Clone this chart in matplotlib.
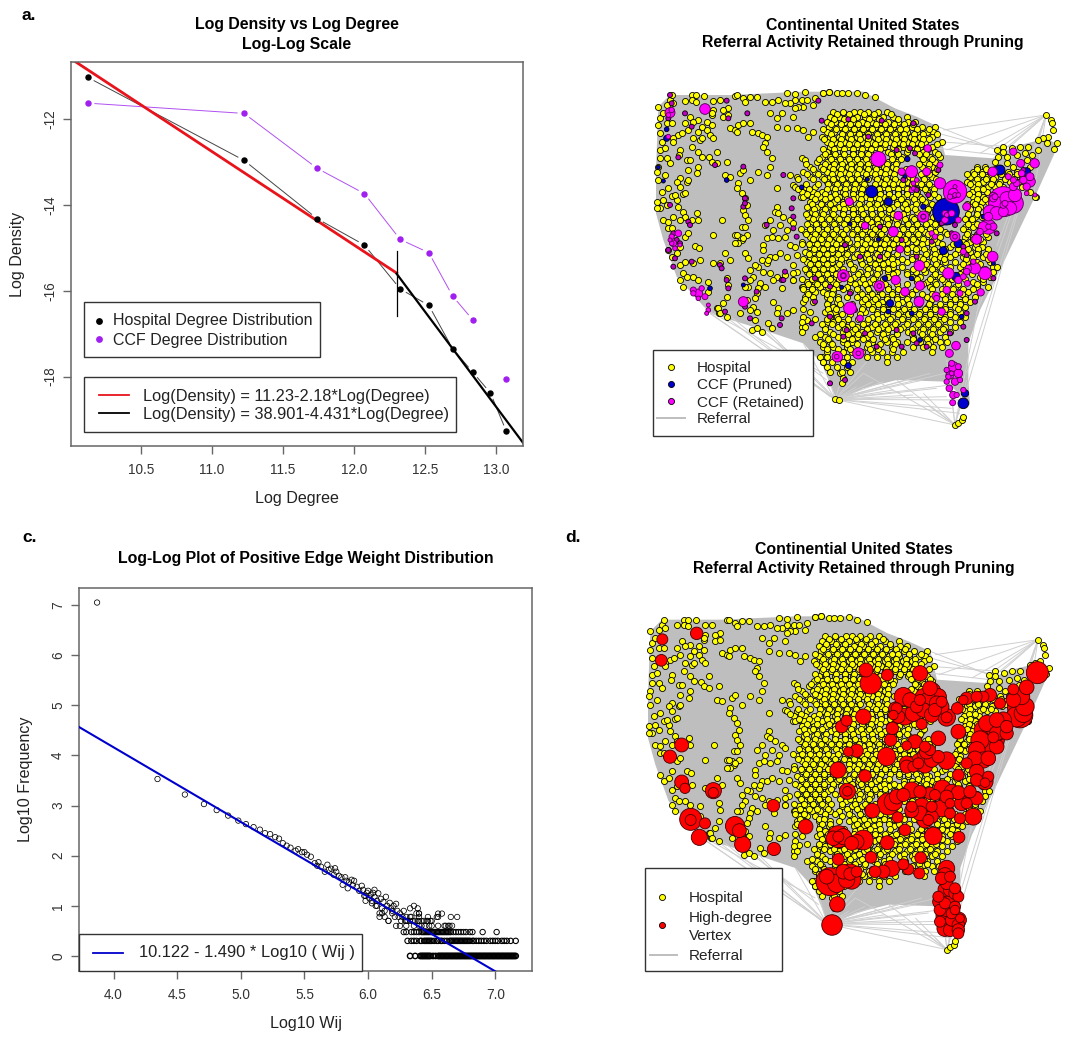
"""
Four panels: degree distribution, edge weight distribution and two referral maps.
Map coordinates are read off the picture (3x crop units, y pointing down).
"""

import matplotlib
matplotlib.use('Agg')
import matplotlib.pyplot as plt
import numpy as np
from matplotlib.collections import LineCollection
from matplotlib.patches import Rectangle

plt.rcParams['font.family'] = ['Liberation Sans', 'DejaVu Sans']
plt.rcParams['axes.unicode_minus'] = False

W, H = 1071, 1039

# panel a
hosp_deg = [10.126, 11.226, 11.74, 12.073, 12.325, 12.527, 12.694, 12.837, 12.96, 13.073]
hosp_den = [-11.02, -12.956, -14.315, -14.93, -15.955, -16.34, -17.35, -17.9, -18.38, -19.28]
ccf_deg = [10.126, 11.226, 11.74, 12.073, 12.325, 12.527, 12.694, 12.837]
ccf_den = [-11.62, -11.86, -13.14, -13.73, -14.8, -15.11, -16.12, -16.68]
ccf_last = (13.073, -18.05)
fit_low = (11.23, -2.18)
fit_high = (38.901, -4.431)
break_deg = 12.3
break_span = (-15.06, -16.58)

# panel c
wij_head = [3.87, 4.345, 4.56, 4.71, 4.81, 4.90, 4.98, 5.04, 5.10, 5.15, 5.19, 5.23, 5.27, 5.30, 5.33,
            5.36, 5.39, 5.43, 5.45, 5.48, 5.50, 5.52, 5.55, 5.58, 5.60, 5.61, 5.63, 5.66, 5.68, 5.69,
            5.71, 5.73, 5.74, 5.75, 5.77, 5.79, 5.80, 5.82, 5.83, 5.84, 5.85, 5.87, 5.88, 5.89, 5.91,
            5.93, 5.95, 5.96, 5.97, 5.98, 5.99, 6.00, 6.01, 6.02, 6.03, 6.04, 6.05, 6.06, 6.07, 6.08,
            6.09, 6.10, 6.11, 6.12, 6.13, 6.14, 6.15, 6.16, 6.17, 6.18, 6.19, 6.20, 6.21, 6.22, 6.23,
            6.24, 6.25, 6.26, 6.27, 6.09, 6.11, 6.07, 6.13, 6.16, 6.19, 6.22, 6.03, 6.05, 5.98, 6.25,
            6.28, 6.30, 6.33, 6.34, 6.36, 6.38, 6.39, 6.40]
frq_head = [7.05, 3.53, 3.22, 3.03, 2.91, 2.80, 2.70, 2.63, 2.57, 2.52, 2.45, 2.43, 2.37, 2.34, 2.25,
            2.20, 2.16, 2.10, 2.13, 2.07, 2.07, 2.02, 1.98, 1.85, 1.80, 1.87, 1.78, 1.68, 1.82, 1.72,
            1.74, 1.62, 1.75, 1.68, 1.60, 1.57, 1.42, 1.57, 1.50, 1.35, 1.47, 1.52, 1.41, 1.50, 1.38,
            1.30, 1.40, 1.32, 1.20, 1.10, 1.26, 1.30, 1.15, 1.22, 1.05, 1.26, 1.18, 1.00, 1.10, 1.25,
            0.85, 1.14, 0.95, 1.08, 0.90, 1.18, 1.00, 0.70, 1.06, 0.95, 0.85, 1.00, 0.78, 1.04, 0.90,
            0.78, 0.85, 0.70, 0.78, 0.78, 0.85, 1.00, 0.78, 0.70, 0.90, 0.60, 1.10, 1.32, 1.20, 0.60,
            0.90, 0.70, 0.95, 0.78, 1.00, 0.85, 0.95, 0.85]
wij_l0 = [6.33, 6.37, 6.41, 6.42, 6.43, 6.44, 6.45, 6.46, 6.47, 6.48, 6.49, 6.51, 6.53, 6.55, 6.56, 6.57,
          6.58, 6.59, 6.60, 6.61, 6.62, 6.63, 6.64, 6.65, 6.66, 6.67, 6.68, 6.69, 6.70, 6.71, 6.72, 6.73,
          6.74, 6.75, 6.76, 6.77, 6.78, 6.79, 6.80, 6.81, 6.82, 6.83, 6.84, 6.85, 6.86, 6.87, 6.88, 6.89,
          6.90, 6.91, 6.92, 6.93, 6.94, 6.95, 6.96, 6.97, 6.98, 6.99, 7.00, 7.01, 7.02, 7.03, 7.04, 7.05,
          7.06, 7.07, 7.08, 7.09, 7.10, 7.11, 7.12, 7.13, 7.14, 7.15, 7.16]
wij_l1 = [6.31, 6.34, 6.36, 6.38, 6.41, 6.42, 6.44, 6.45, 6.46, 6.47, 6.48, 6.49, 6.50, 6.52, 6.54, 6.55,
          6.57, 6.58, 6.60, 6.62, 6.64, 6.65, 6.66, 6.67, 6.68, 6.69, 6.70, 6.71, 6.72, 6.73, 6.74, 6.75,
          6.76, 6.77, 6.78, 6.79, 6.80, 6.82, 6.83, 6.85, 6.87, 6.89, 6.91, 6.93, 6.96, 6.98, 7.00, 7.02,
          7.05, 7.07, 7.09, 7.12, 7.16]
wij_l2 = [6.28, 6.30, 6.34, 6.36, 6.38, 6.40, 6.42, 6.43, 6.44, 6.45, 6.46, 6.47, 6.48, 6.49, 6.50, 6.51,
          6.52, 6.53, 6.54, 6.55, 6.56, 6.57, 6.58, 6.59, 6.60, 6.61, 6.62, 6.63, 6.64, 6.65, 6.67, 6.69,
          6.71, 6.73, 6.75, 6.77, 6.80, 6.82, 6.90, 7.01]
wij_l3 = [6.30, 6.36, 6.40, 6.42, 6.45, 6.48, 6.50, 6.55, 6.60, 6.61, 6.63, 6.64, 6.66]
wij_l4 = [6.29, 6.31, 6.33, 6.35, 6.37, 6.39, 6.40, 6.42, 6.44, 6.46, 6.47, 6.49, 6.50]
wij_l5 = [6.30, 6.33, 6.40, 6.47, 6.54, 6.55, 6.65, 6.70]
wij_l6 = [6.40, 6.55, 6.58]
level_x = [wij_l0, wij_l1, wij_l2, wij_l3, wij_l4, wij_l5, wij_l6]
level_y = [0.0, 0.301, 0.477, 0.602, 0.699, 0.778, 0.845]
level_lw = [1.0, 0.8, 0.7, 0.55, 0.55, 0.55, 0.55]
wij_fit = (10.122, -1.490)

# maps: hospitals in the sparse west and north-east, as x,y pairs
west_x = [85, 120, 125, 130, 112, 187, 197, 222, 185, 165, 197, 250, 270, 315, 322, 295, 280, 250, 278, 295,
          245, 230, 205, 180, 165, 188, 215, 245, 230, 205, 175, 190, 210, 240, 248, 145, 130, 155, 90, 85,
          110, 125, 100, 90, 95, 90, 105, 130, 112, 150, 148, 90, 85, 80, 85, 105, 115, 125, 160, 170,
          165, 140, 80, 90, 100, 115, 130, 145, 160, 165, 150, 185, 200, 205, 80, 115, 125, 165, 175, 195,
          208, 150, 115, 125, 140, 150, 165, 190, 210, 160, 170, 190, 205, 235, 160, 150, 290, 280, 262, 268,
          235, 250, 270, 285, 300, 315, 325, 340, 360, 320, 365, 385, 395, 410, 340, 360, 345, 380, 405, 425,
          445, 470, 495, 525, 495, 480, 465, 515, 530, 520, 505, 495, 555, 550, 580, 597, 420, 440, 455, 490,
          470, 500, 520, 440, 535, 550, 238, 245, 262, 290, 285, 300, 330, 340, 325, 320, 360, 335, 345, 350,
          340, 345, 355, 335, 350, 335, 345, 330, 315, 325, 345, 405, 410, 400, 425, 420, 410, 385, 440, 480,
          500, 490, 512, 530, 545, 555, 515, 525, 440, 435, 445, 460, 480, 405, 420, 430, 450, 470, 490, 410,
          400, 425, 445, 465, 480, 495, 400, 420, 395, 410, 435, 450, 470, 500, 490, 415, 385, 375, 360, 400,
          420, 440, 465, 500, 490, 370, 390, 405, 430, 455, 490, 275, 250, 320, 315, 340, 355, 300, 290, 295,
          355, 385, 380, 375, 350, 370, 380, 265, 270, 290, 330, 360, 375, 430, 445, 470, 490, 520, 515, 440,
          415, 425, 365, 380, 395, 490, 515, 530, 360, 345, 575, 580, 260, 245, 205, 215, 185, 170, 150, 140,
          120, 95, 100, 110, 135, 150, 175, 200, 180, 215, 205, 175]
west_y = [80, 60, 45, 70, 75, 45, 45, 47, 60, 62, 65, 62, 60, 47, 45, 85, 90, 90, 110, 105,
          105, 125, 120, 110, 130, 125, 140, 135, 150, 155, 150, 175, 180, 165, 175, 165, 175, 160, 115, 135,
          130, 130, 100, 160, 185, 210, 205, 185, 235, 210, 225, 235, 260, 275, 300, 285, 325, 348, 342, 305,
          340, 360, 365, 385, 420, 425, 410, 380, 395, 410, 420, 420, 400, 420, 385, 445, 445, 470, 460, 498,
          505, 500, 510, 530, 520, 555, 545, 550, 540, 580, 590, 590, 600, 605, 620, 600, 650, 670, 685, 700,
          635, 550, 550, 520, 145, 150, 135, 130, 130, 155, 155, 160, 165, 170, 55, 50, 65, 50, 65, 65,
          60, 40, 42, 37, 60, 70, 70, 60, 60, 80, 80, 85, 55, 75, 38, 35, 100, 115, 100, 110,
          145, 145, 150, 140, 170, 155, 232, 245, 250, 245, 285, 290, 280, 270, 310, 325, 300, 340, 355, 375,
          390, 405, 420, 440, 465, 480, 440, 470, 465, 490, 520, 190, 215, 200, 235, 260, 285, 275, 325, 285,
          290, 315, 350, 345, 360, 320, 235, 240, 380, 395, 400, 410, 420, 435, 420, 450, 435, 450, 430, 475,
          495, 470, 475, 470, 495, 500, 510, 530, 540, 550, 530, 520, 530, 525, 555, 540, 560, 555, 570, 575,
          580, 590, 585, 575, 600, 590, 610, 620, 600, 625, 580, 420, 465, 465, 490, 475, 535, 540, 595, 615,
          620, 625, 640, 655, 660, 680, 695, 685, 700, 710, 700, 690, 720, 665, 685, 700, 690, 665, 620, 700,
          730, 745, 750, 745, 755, 600, 740, 720, 600, 620, 830, 845, 215, 100, 215, 175, 200, 240, 295, 305,
          250, 335, 360, 375, 345, 320, 300, 280, 240, 230, 260, 270]
ne_x = [1248, 1262, 1265, 1268, 1255, 1240, 1280, 1272, 1250, 1225, 1225, 1195, 1170, 1145, 1120, 1100, 1120, 1105, 1095, 1130,
        1160, 1185, 1205, 1190, 1130, 1200, 1150, 1110, 975, 985, 995, 1000, 615, 628, 638, 635, 630, 1218,
        620, 635, 655, 680, 705, 735, 598, 580]
ne_y = [105, 120, 130, 150, 170, 175, 190, 208, 190, 180, 210, 200, 200, 205, 200, 210, 215, 230, 245, 230,
        225, 220, 225, 240, 250, 260, 260, 265, 1035, 1028, 1020, 1010, 958, 960, 895, 910, 880, 350,
        40, 40, 40, 38, 45, 52, 35, 38]

# maps: hospitals in the dense east, one list of x per row
east_y = [95, 110, 125, 140, 155, 170, 185, 200, 215, 230, 245, 260, 275, 290, 305, 320, 335, 350, 365,
          380, 395, 410, 425, 440, 455, 470, 485, 500, 515, 530, 545, 560, 575, 590, 605, 620, 635, 650, 665,
          680, 695, 710, 725, 740, 755, 770, 785, 800, 815, 830, 845, 860, 875]
east_x = [
    [610, 640, 672, 690, 715, 745, 770],
    [600, 628, 650, 682, 705, 730, 760, 790, 830],
    [590, 615, 645, 668, 695, 722, 750, 775, 805, 835, 855],
    [598, 630, 655, 680, 708, 735, 762, 790, 818, 845, 875, 915],
    [590, 612, 640, 668, 692, 720, 748, 775, 800, 830, 860, 890, 910],
    [575, 600, 628, 655, 680, 705, 735, 760, 788, 815, 842, 870, 905],
    [590, 615, 642, 668, 695, 722, 750, 778, 805, 832, 858, 885, 935],
    [600, 628, 655, 680, 708, 735, 762, 790, 818, 845, 870, 905],
    [590, 612, 640, 668, 692, 720, 775, 802, 830, 858, 880, 915],
    [575, 600, 628, 655, 680, 705, 790, 815, 875, 900, 930],
    [560, 590, 615, 642, 668, 695, 722, 775, 802, 885, 915],
    [540, 572, 600, 628, 655, 680, 708, 735, 762, 790, 875, 905, 1040, 1065],
    [520, 555, 590, 615, 642, 668, 695, 722, 750, 778, 815, 885, 915, 1030, 1055, 1080, 1135, 1160],
    [540, 575, 600, 628, 655, 680, 708, 735, 762, 790, 835, 878, 905, 1020, 1045, 1070, 1095, 1125, 1150, 1175],
    [590, 615, 642, 668, 695, 750, 778, 805, 830, 860, 890, 1010, 1035, 1060, 1085, 1110, 1140, 1165],
    [495, 525, 600, 628, 655, 680, 708, 762, 790, 818, 845, 875, 905, 1030, 1050, 1075, 1095, 1120, 1175],
    [515, 550, 575, 612, 640, 668, 692, 722, 750, 778, 805, 832, 860, 890, 1025, 1045, 1070, 1200],
    [520, 545, 570, 600, 628, 680, 708, 735, 762, 790, 818, 845, 870, 900, 925, 1030, 1060, 1215],
    [540, 575, 612, 640, 692, 722, 750, 800, 832, 860, 885, 1030, 1055, 1075],
    [530, 560, 590, 628, 655, 680, 708, 735, 762, 790, 818, 845, 900, 1020, 1050],
    [545, 575, 605, 640, 668, 692, 722, 750, 778, 832, 860, 890, 1040],
    [535, 560, 590, 618, 655, 680, 708, 735, 762, 790, 845, 910, 1010, 1035, 1055],
    [545, 575, 605, 632, 668, 692, 722, 750, 778, 805, 832, 858, 900, 930, 1025],
    [540, 565, 590, 618, 655, 680, 730, 762, 815, 845, 870, 905, 1005, 1030],
    [525, 550, 575, 605, 632, 668, 692, 720, 748, 830, 858, 885, 915, 945, 1015],
    [540, 565, 590, 618, 645, 680, 708, 735, 762, 790, 815, 845, 870, 905, 930, 1005, 1030, 1075],
    [515, 550, 575, 605, 632, 658, 692, 720, 748, 775, 802, 830, 858, 890, 920, 1000, 1020, 1060],
    [540, 565, 590, 618, 645, 672, 708, 735, 762, 790, 815, 845, 870, 905, 960, 1035, 1055],
    [525, 550, 575, 605, 632, 658, 692, 720, 748, 775, 830, 858, 890, 920, 985, 1020, 1045],
    [540, 565, 590, 618, 645, 672, 708, 735, 762, 790, 845, 870, 905, 930, 960, 1000, 1030, 1060],
    [530, 555, 580, 605, 632, 658, 692, 720, 748, 775, 802, 830, 890, 920, 945, 975, 1010, 1040, 1080],
    [545, 570, 595, 618, 672, 708, 735, 762, 790, 815, 900, 930, 960, 990, 1020, 1090, 1100],
    [530, 555, 580, 605, 690, 720, 748, 775, 802, 830, 858, 885, 915, 1000, 1090],
    [545, 570, 595, 618, 672, 700, 735, 775, 845, 870, 905, 930, 1050, 1080],
    [530, 555, 580, 610, 660, 690, 720, 860, 890, 915, 945, 1030, 1060],
    [520, 545, 570, 595, 625, 650, 680, 710, 775, 900, 945, 975, 1040, 1075],
    [530, 555, 580, 610, 660, 690, 720, 750, 785, 845, 960, 990, 1015],
    [525, 550, 590, 625, 650, 680, 710, 740, 770, 800, 835, 890, 945, 975, 1005, 1035],
    [550, 595, 620, 695, 725, 755, 815, 900, 960, 990, 1020],
    [595, 610, 700, 730, 760, 800, 835, 890, 915, 945, 975, 1005],
    [540, 585, 615, 705, 740, 770, 810, 840, 870, 900, 960, 990],
    [520, 600, 620, 725, 755, 785, 820, 855, 885, 915, 945, 975, 1005],
    [515, 590, 610, 640, 710, 740, 770, 800, 835, 870, 900, 930, 960, 990],
    [525, 585, 625, 650, 680, 725, 755, 785, 820, 855, 885, 915, 945, 975],
    [515, 600, 640, 665, 695, 740, 770, 800, 835, 870, 900, 930, 960],
    [555, 585, 625, 650, 680, 710, 755, 785, 850, 885, 915, 945],
    [570, 600, 640, 665, 725, 770, 800, 830, 870, 900, 930, 950],
    [580, 610, 650, 710, 740, 785, 850, 880, 910, 935],
    [590, 640, 665, 695, 725, 755, 785, 820, 905],
    [570, 590, 650, 710, 740, 770, 800],
    [580, 605, 640, 665, 770],
    [590, 620, 650],
    [600, 635, 660],
]
# second pass over the same area, between the rows above
east2_y = [103, 117, 133, 147, 163, 178, 193, 207, 222, 238, 253, 268, 283, 297, 313, 328, 343, 357, 373, 388,
           402, 418, 433, 447, 463, 478, 493, 507, 523, 538, 552, 568, 583, 597, 613, 628, 643, 657, 673, 688,
           703, 718, 733, 747, 763, 778, 793, 808]
east2_x = [
    [622, 657, 703, 733, 782],
    [613, 641, 669, 718, 747, 803],
    [603, 634, 659, 684, 711, 738, 765, 793, 822, 848],
    [578, 618, 644, 673, 699, 727, 753, 781, 809, 829, 862, 898],
    [603, 636, 661, 687, 714, 742, 769, 794, 823, 851, 878, 922],
    [583, 609, 634, 663, 689, 714, 743, 769, 797, 823, 851, 879, 898],
    [602, 630, 657, 681, 711, 736, 766, 793, 819, 846, 872, 921],
    [579, 613, 641, 669, 695, 722, 751, 804, 833, 862, 893],
    [584, 616, 643, 669, 694, 713, 782, 805, 867, 888, 925],
    [567, 603, 630, 656, 682, 709, 738, 785, 812, 878, 905],
    [528, 586, 611, 636, 662, 689, 715, 748, 770, 798, 868, 896],
    [549, 580, 610, 634, 662, 688, 714, 738, 769, 798, 829, 893, 922, 1042, 1067, 1094],
    [530, 563, 606, 630, 657, 682, 709, 735, 765, 793, 850, 872, 897, 1010, 1031, 1056, 1082, 1112, 1138, 1162],
    [505, 548, 583, 610, 636, 662, 688, 714, 741, 767, 795, 822, 849, 882, 918, 1040, 1067, 1090, 1126, 1152, 1185],
    [528, 563, 593, 620, 648, 674, 701, 735, 763, 790, 815, 846, 872, 898, 1020, 1045, 1082, 1108, 1190],
    [505, 538, 590, 615, 645, 672, 696, 722, 748, 775, 803, 830, 858, 885, 912, 1040, 1060],
    [530, 562, 586, 614, 644, 668, 694, 722, 750, 778, 805, 832, 858, 912, 1016, 1045],
    [555, 584, 620, 650, 668, 694, 719, 748, 775, 813, 852, 875, 1040, 1065],
    [545, 572, 600, 638, 660, 688, 716, 742, 770, 800, 825, 858, 905, 1010, 1035],
    [552, 584, 612, 642, 668, 692, 722, 750, 776, 832, 856, 895, 1020, 1045],
    [528, 556, 580, 610, 640, 670, 700, 725, 752, 788, 820, 888, 918, 1014, 1040],
    [548, 572, 598, 626, 652, 682, 712, 742, 770, 798, 826, 852, 922, 1005, 1025],
    [532, 558, 582, 612, 642, 668, 694, 745, 775, 802, 835, 860, 888, 915, 1015, 1040],
    [512, 540, 564, 590, 618, 648, 680, 705, 735, 762, 790, 818, 845, 872, 900, 930, 1000, 1050],
    [528, 556, 582, 608, 640, 666, 696, 725, 752, 780, 808, 835, 865, 895, 950, 1010, 1040, 1068],
    [548, 572, 598, 626, 652, 682, 712, 740, 768, 798, 825, 850, 878, 912, 975, 1028, 1050],
    [515, 538, 560, 590, 618, 645, 680, 705, 734, 762, 790, 815, 875, 905, 935, 970, 1008, 1038],
    [552, 580, 605, 632, 665, 695, 722, 750, 778, 805, 832, 858, 882, 912, 945, 985, 1015, 1045, 1075],
    [538, 566, 592, 624, 650, 680, 710, 740, 770, 800, 888, 915, 945, 975, 1005, 1040, 1068],
    [520, 552, 578, 605, 634, 690, 718, 748, 785, 815, 845, 880, 912, 942, 1008, 1075],
    [540, 565, 592, 628, 660, 695, 735, 760, 790, 860, 888, 918, 1000, 1050],
    [525, 552, 580, 605, 640, 670, 715, 745, 775, 848, 878, 905, 935, 1035, 1064],
    [538, 565, 592, 618, 655, 685, 712, 740, 790, 830, 915, 960, 990, 1025],
    [515, 545, 572, 600, 628, 660, 698, 728, 760, 795, 862, 900, 935, 965, 1005, 1060],
    [535, 560, 585, 618, 675, 705, 735, 765, 800, 830, 880, 918, 955, 985, 1040],
    [520, 545, 610, 640, 680, 715, 745, 775, 805, 858, 905, 935, 970, 1000, 1030],
    [535, 590, 605, 695, 725, 755, 785, 815, 845, 875, 905, 935, 965, 995],
    [525, 600, 625, 705, 735, 770, 800, 830, 860, 905, 945, 975, 1005],
    [590, 630, 665, 715, 745, 775, 805, 838, 868, 898, 930, 960, 990],
    [520, 595, 618, 650, 695, 725, 760, 790, 822, 852, 885, 915, 945, 985],
    [600, 635, 660, 690, 740, 770, 805, 835, 868, 900, 930, 960],
    [555, 590, 625, 655, 685, 715, 745, 780, 815, 850, 882, 912, 942],
    [575, 605, 635, 665, 700, 735, 765, 795, 830, 865, 895, 925],
    [585, 645, 675, 710, 745, 775, 810, 845, 880, 910, 940],
    [570, 610, 655, 685, 720, 760, 800, 845, 875, 905],
    [595, 640, 665, 700, 730, 765, 790, 850, 890, 915],
    [580, 605, 650, 680, 715, 750, 795, 895],
    [590, 625, 660, 720, 745, 790],
]

# referral fans towards the far-out vertices
fan_from_x = [1248, 1248, 1248, 1248, 1248, 1248, 1248, 1248, 1248, 1248, 1248,
              615, 615, 615, 615, 615, 615, 615, 615, 615, 615, 615, 615, 615, 615,
              615, 615, 615, 615, 615, 615, 615, 615, 615, 615,
              975, 975, 975, 975, 975, 975, 975, 975, 975, 975,
              240, 290, 400, 350, 230, 925, 925, 925, 925]
fan_from_y = [105, 105, 105, 105, 105, 105, 105, 105, 105, 105, 105,
              958, 958, 958, 958, 958, 958, 958, 958, 958, 958, 958, 958, 958, 958,
              958, 958, 958, 958, 958, 958, 958, 958, 958, 958,
              1035, 1035, 1035, 1035, 1035, 1035, 1035, 1035, 1035, 1035,
              700, 700, 740, 720, 690, 140, 160, 185, 205]
fan_to_x = [1100, 1050, 940, 950, 1140, 1210, 1100, 1040, 1010, 1090, 1000,
            520, 400, 300, 700, 760, 830, 900, 945, 1000, 975, 710, 650, 240, 590,
            680, 730, 790, 850, 880, 920, 950, 960, 965, 990,
            700, 800, 1010, 950, 1060, 880, 900, 940, 1000, 960,
            615, 600, 610, 590, 580, 1100, 1130, 1200, 1150]
fan_to_y = [210, 220, 150, 210, 200, 350, 500, 700, 880, 235, 960,
            790, 750, 720, 880, 905, 900, 880, 880, 960, 1035, 845, 850, 700, 870,
            920, 905, 930, 945, 900, 925, 950, 915, 985, 1000,
            880, 900, 900, 840, 600, 940, 980, 1000, 950, 905,
            958, 950, 950, 900, 880, 210, 215, 205, 230]
hull_x = [85, 120, 300, 520, 700, 795, 860, 925, 945, 1090, 1150, 1250, 1285, 1215, 1110, 1050, 1015, 1015, 1020,
          950, 800, 700, 640, 620, 575, 520, 400, 240, 140, 100, 78, 78]
hull_y = [80, 45, 45, 35, 35, 85, 110, 140, 225, 235, 200, 175, 195, 350, 570, 690, 790, 900, 975,
          905, 900, 925, 955, 960, 850, 790, 750, 700, 590, 480, 400, 270]

# panel b vertices: x, y, diameter
ccf_big_x = [225, 120, 745, 845, 815, 890, 893, 930, 975, 970, 1088, 1150, 1172, 1214, 1200, 1155, 1120, 1100, 1080, 1075,
             1040, 1088, 1065, 1035, 955, 868, 640, 640, 660, 685, 622, 690, 658, 705, 790, 880, 880, 805, 975, 810,
             748, 797, 825, 870, 867, 918, 935, 1052, 978, 958, 990, 1012, 970, 960, 985, 975, 958, 970, 968, 205,
             190, 225, 235, 130, 125, 145, 340, 1120, 1140, 1095, 975, 945,
             1150, 1130, 1100, 1120, 1090, 1160, 1200, 1190, 1075, 1060, 1090, 1050, 1135, 1150, 1215, 1190, 960, 985, 975, 950,
             965, 945, 190, 215, 205, 235, 230, 125, 135, 150, 120, 125, 115, 115, 950, 965, 985, 990, 1000, 950, 965, 980, 955,
             850, 845, 860, 850, 620, 685, 640, 748, 880, 975, 1075, 1125,
             1010, 985, 905, 930, 1000, 1010, 950, 920, 915, 985, 1000, 1015, 1030, 1090, 1150, 1175, 1180]
ccf_big_y = [87, 98, 237, 275, 275, 275, 205, 310, 335, 340, 275, 215, 250, 250, 305, 345, 365, 375, 395, 440,
             478, 530, 580, 565, 580, 557, 587, 587, 685, 820, 830, 715, 365, 437, 455, 410, 410, 407, 470, 508,
             618, 600, 635, 617, 665, 648, 695, 637, 797, 820, 640, 610, 860, 885, 880, 905, 925, 945, 968, 640,
             630, 650, 690, 490, 470, 460, 665, 375, 385, 350, 345, 400,
             370, 355, 400, 395, 350, 310, 290, 320, 410, 440, 440, 455, 290, 300, 345, 340, 350, 345, 320, 405,
             400, 420, 640, 625, 655, 675, 700, 490, 505, 495, 480, 90, 105, 170, 870, 850, 860, 900, 930, 905, 880, 945, 890,
             310, 330, 300, 325, 830, 820, 587, 618, 410, 470, 440, 370,
             380, 420, 460, 255, 515, 575, 630, 655, 470, 600, 590, 565, 545, 355, 320, 280, 300]
ccf_big_d = [32, 30, 45, 36, 22, 24, 22, 34, 70, 30, 28, 22, 24, 28, 32, 40, 90, 50, 40, 45,
             30, 32, 38, 34, 34, 32, 36, 18, 38, 34, 32, 20, 24, 22, 30, 34, 16, 26, 30, 22,
             32, 28, 26, 28, 30, 24, 22, 22, 26, 24, 18, 18, 30, 24, 26, 22, 20, 22, 18, 26,
             18, 18, 14, 20, 16, 20, 30, 20, 40, 18, 14, 18,
             60, 40, 40, 30, 26, 20, 24, 22, 26, 30, 22, 20, 18, 18, 12, 14, 16, 14, 12, 14,
             20, 20, 16, 16, 14, 12, 12, 14, 14, 12, 12, 16, 14, 14, 16, 18, 18, 16, 16, 16, 14, 16, 16,
             14, 16, 14, 12, 14, 14, 14, 14, 14, 14, 16, 18,
             24, 18, 16, 18, 18, 20, 22, 18, 16, 22, 18, 20, 16, 22, 24, 20, 22]
ccf_blue_x = [725, 948, 775, 985, 940, 780, 832, 880, 1110, 1190, 655, 1000, 1005, 110, 978, 765, 845, 110, 85, 1060,
              660, 712, 825, 745, 635, 845, 870, 775, 1090, 995, 240, 340, 100, 515, 290]
ccf_blue_y = [335, 395, 365, 490, 512, 670, 237, 380, 270, 275, 857, 970, 940, 175, 590, 595, 595, 148, 262, 410,
              432, 298, 290, 478, 622, 700, 780, 695, 550, 710, 625, 615, 303, 322, 300]
ccf_blue_d = [36, 80, 24, 26, 24, 22, 16, 16, 30, 24, 18, 32, 22, 18, 26, 16, 14, 14, 12, 14,
              12, 12, 12, 12, 12, 14, 14, 14, 12, 14, 14, 12, 12, 14, 14]
ccf_small_x = [120, 125, 165, 185, 295, 352, 290, 115, 145, 255, 340, 565, 575, 655, 755, 850, 800, 715, 840, 855,
               860, 930, 820, 895, 925, 345, 340, 345, 490, 485, 490, 460, 410, 490, 120, 175, 180, 130, 140, 115,
               150, 185, 135, 130, 270, 275, 290, 295, 345, 335, 345, 380, 455, 465, 555, 460, 500, 285, 360, 455,
               450, 545, 555, 600, 640, 650, 675, 705, 740, 815, 860, 890, 960, 1010, 1035, 1090, 1130, 1180, 600, 645,
               815, 905, 860, 690, 750, 750, 645, 600, 800, 660, 850, 1000, 1010, 1045, 1100, 935, 965, 975, 1000, 1010]
ccf_small_y = [45, 70, 100, 140, 115, 100, 62, 115, 232, 255, 260, 62, 122, 118, 122, 130, 210, 170, 205, 220,
               330, 255, 300, 345, 270, 355, 380, 370, 355, 385, 410, 285, 435, 445, 375, 425, 435, 460, 480, 510,
               490, 545, 535, 560, 555, 565, 600, 625, 595, 665, 680, 635, 600, 575, 595, 600, 470, 695, 715, 715,
               735, 730, 665, 710, 770, 750, 690, 760, 800, 800, 790, 800, 760, 700, 665, 595, 350, 270, 910, 900,
               480, 485, 530, 530, 440, 530, 495, 620, 750, 640, 760, 740, 780, 460, 460, 430, 460, 435, 500, 525]

# panel d vertices: x, y, diameter
red_x = [97, 200, 94, 155, 120, 155, 165, 250, 250, 182, 182, 225, 208, 315, 328, 338, 430, 432, 527, 624,
         652, 652, 705, 635, 650, 700, 708, 722, 772, 870, 655, 680, 770, 782, 787, 820, 800, 825, 860, 880,
         905, 920, 905, 950, 950, 875, 985, 982, 1010, 1040, 1080, 1110, 1150, 1190, 1222, 1165, 1170, 1130, 1100, 1070,
         1075, 1090, 1100, 1090, 1040, 1060, 1040, 985, 1065, 1065, 950, 870, 865, 830, 890, 885, 855, 830, 925, 845,
         775, 800, 727, 803, 845, 875, 900, 937, 935, 885, 895, 990, 1030, 985, 995, 1040, 960, 825, 910, 987,
         772, 700, 665, 625, 625, 625, 723, 872, 600, 660, 660, 665, 622, 606, 735, 785, 760, 820, 835, 868,
         950, 935, 945, 975, 930, 955, 975, 940, 985, 945, 985, 985, 965,
         795, 840, 850, 880, 895, 925, 935, 915, 900, 935, 790, 805, 870, 1000, 1060, 1150, 1185, 1175, 1160, 1180,
         1120, 1095, 1060, 1050, 1110, 1070, 1100, 1130, 1035, 1075, 1010, 1040, 1075, 830, 850, 885, 905, 925, 900, 885,
         790, 820, 870, 915, 950, 965, 1000, 1020, 1010, 960, 870, 905, 845, 905, 640, 610, 680, 650, 680, 640,
         620, 590, 950, 960, 975, 985, 925, 945, 930, 950, 965, 985, 930, 960, 990, 975, 945, 960]
red_y = [118, 100, 181, 435, 470, 546, 565, 572, 578, 658, 660, 670, 712, 678, 692, 733, 617, 747, 680, 510,
         574, 574, 528, 380, 362, 350, 210, 250, 225, 220, 455, 452, 470, 420, 385, 290, 325, 350, 320, 290,
         275, 310, 345, 352, 352, 372, 395, 325, 295, 290, 285, 310, 268, 262, 218, 320, 345, 380, 360, 370,
         400, 420, 400, 412, 450, 480, 515, 525, 545, 548, 482, 487, 490, 500, 455, 440, 425, 437, 415, 570,
         612, 590, 632, 652, 632, 617, 580, 565, 625, 660, 660, 655, 650, 578, 610, 595, 610, 690, 708, 712,
         728, 720, 730, 710, 710, 778, 772, 773, 845, 825, 822, 840, 913, 975, 815, 805, 815, 793, 808, 820,
         805, 835, 868, 880, 905, 890, 920, 948, 960, 985, 990, 1000, 940,
         325, 300, 340, 330, 300, 290, 320, 330, 265, 305, 345, 350, 300, 300, 290, 300, 320, 290, 350, 340,
         360, 385, 390, 420, 395, 440, 440, 400, 475, 475, 490, 540, 530, 490, 500, 495, 480, 470, 450, 465,
         605, 585, 575, 585, 590, 575, 590, 575, 610, 640, 640, 620, 620, 650, 710, 715, 725, 840, 815, 815,
         850, 830, 850, 870, 865, 890, 890, 910, 930, 930, 960, 975, 965, 990, 955, 930, 825, 830]
red_d = [30, 34, 32, 38, 36, 38, 28, 44, 28, 60, 30, 30, 44, 52, 38, 44, 34, 36, 40, 44,
         44, 26, 34, 34, 30, 42, 38, 58, 32, 42, 26, 36, 50, 34, 34, 50, 30, 46, 34, 44,
         50, 40, 40, 48, 30, 30, 40, 32, 34, 30, 36, 30, 30, 40, 60, 60, 70, 34, 40, 44,
         70, 60, 40, 30, 46, 44, 40, 32, 44, 26, 48, 50, 30, 36, 40, 30, 38, 26, 40, 44,
         60, 40, 40, 30, 38, 42, 34, 46, 46, 44, 30, 30, 46, 38, 40, 36, 26, 32, 48, 32,
         38, 54, 38, 60, 30, 32, 32, 32, 76, 60, 34, 50, 42, 56, 32, 44, 36, 30, 30, 30,
         44, 34, 38, 34, 40, 44, 30, 40, 44, 44, 34, 30, 30,
         34, 40, 44, 40, 44, 44, 40, 36, 40, 30, 26, 36, 30, 26, 30, 40, 50, 44, 56, 50,
         44, 50, 50, 50, 44, 60, 40, 36, 40, 40, 30, 34, 30, 40, 30, 44, 40, 34, 30, 40,
         50, 36, 34, 30, 36, 40, 40, 34, 30, 30, 40, 30, 30, 36, 44, 40, 40, 44, 30, 40,
         50, 40, 34, 36, 30, 30, 30, 30, 32, 36, 34, 34, 30, 36, 24, 26, 40, 30]

GREY = '#BEBEBE'
AX_COL = '#666666'
TXT = '#222222'


def px_axes(fig, left, top, right, bottom):
    return fig.add_axes([left / W, 1 - bottom / H, (right - left) / W, (bottom - top) / H])


def style_axes(ax):
    for s in ax.spines.values():
        s.set_color(AX_COL)
        s.set_linewidth(1.1)
    ax.tick_params(length=6, width=1.0, color=AX_COL, labelcolor='#333333', labelsize=9.8, pad=6)
    ax.tick_params(axis='y', pad=4)
    for lab in ax.get_yticklabels():
        lab.set_rotation(90)
        lab.set_va('center')


def gapped_line(ax, xs, ys, gap_px=7, **kw):
    # R type="b": segments stop short of the points
    pts = ax.transData.transform(np.column_stack([xs, ys]))
    inv = ax.transData.inverted()
    for a, b in zip(pts[:-1], pts[1:]):
        d = b - a
        n = np.hypot(*d)
        if n <= 2 * gap_px:
            continue
        seg = np.array([a + d / n * gap_px, b - d / n * gap_px])
        seg = inv.transform(seg)
        ax.plot(seg[:, 0], seg[:, 1], **kw)


def node_size(d):
    # diameter in crop units to scatter area
    return (np.asarray(d, dtype=float) * 0.24) ** 2


def hospitals():
    xs = list(west_x) + list(ne_x)
    ys = list(west_y) + list(ne_y)
    for y_list, x_rows in [(east_y, east_x), (east2_y, east2_x)]:
        for y, row in zip(y_list, x_rows):
            xs.extend(row)
            ys.extend([y] * len(row))
    return np.array(xs, dtype=float), np.array(ys, dtype=float)


def draw_network(ax, dx, dy):
    ax.fill(np.array(hull_x) + dx, np.array(hull_y) + dy, color=GREY, lw=0, zorder=1)
    segs = [[(a + dx, b + dy), (c + dx, d + dy)]
            for a, b, c, d in zip(fan_from_x, fan_from_y, fan_to_x, fan_to_y)]
    ax.add_collection(LineCollection(segs, colors='#CFCFCF', linewidths=0.7, zorder=1))
    hx, hy = hospitals()
    ax.scatter(hx + dx, hy + dy, s=19, c='#FFFF00', edgecolors='black', linewidths=0.6, zorder=2)


fig = plt.figure(figsize=(W / 100, H / 100), dpi=100)

# panel a
ax = px_axes(fig, 71, 62, 523, 446)
ax.set_xlim(10.007, 13.19)
ax.set_ylim(-19.62, -10.66)
ax.set_xticks([10.5, 11.0, 11.5, 12.0, 12.5, 13.0])
ax.set_yticks([-18, -16, -14, -12])
style_axes(ax)
gapped_line(ax, hosp_deg, hosp_den, color='#444444', lw=0.7)
gapped_line(ax, ccf_deg, ccf_den, color='#B050F0', lw=0.7)
ax.scatter(hosp_deg, hosp_den, s=13, c='black', zorder=3)
ax.scatter(ccf_deg + [ccf_last[0]], ccf_den + [ccf_last[1]], s=13, c='#A020F0', zorder=3)
xl = np.array([10.0, break_deg])
ax.plot(xl, fit_low[0] + fit_low[1] * xl, color='#E8141C', lw=2)
xh = np.array([break_deg, 13.3])
ax.plot(xh, fit_high[0] + fit_high[1] * xh, color='black', lw=1.6)
ax.plot([break_deg, break_deg], break_span, color='black', lw=0.9)
ax.set_xlabel('Log Degree', fontsize=11.6, color=TXT, labelpad=10)
ax.set_ylabel('Log Density', fontsize=11.6, color=TXT, labelpad=13)

# panel b map
ax = px_axes(fig, 630, 80, 1071, 450)
ax.set_xlim(0, 1323)
ax.set_ylim(1110, 0)
ax.axis('off')
draw_network(ax, 0, 0)
ax.scatter(ccf_blue_x, ccf_blue_y, s=node_size(ccf_blue_d), c='#0000CD', edgecolors='black', linewidths=0.6, zorder=3)
ax.scatter(ccf_small_x, ccf_small_y, s=node_size([15] * len(ccf_small_x)), c='#C000C0', edgecolors='black', linewidths=0.6, zorder=3)
order = np.argsort(ccf_big_d)[::-1]
ax.scatter(np.array(ccf_big_x)[order], np.array(ccf_big_y)[order], s=node_size(np.array(ccf_big_d)[order]),
           c='#FF00FF', edgecolors='#500050', linewidths=0.6, zorder=4)

# panel c
ax = px_axes(fig, 79, 588, 532, 971)
ax.set_xlim(3.728, 7.288)
ax.set_ylim(-0.30, 7.34)
ax.set_xticks([4.0, 4.5, 5.0, 5.5, 6.0, 6.5, 7.0])
ax.set_yticks(range(8))
style_axes(ax)
ax.scatter(wij_head, frq_head, s=15, facecolors='none', edgecolors='black', linewidths=0.55, zorder=2)
for y, xs, lw in zip(level_y, level_x, level_lw):
    ax.scatter(xs, [y] * len(xs), s=15, facecolors='none', edgecolors='black', linewidths=lw, zorder=2)
xf = np.array([3.6, 7.2])
ax.plot(xf, wij_fit[0] + wij_fit[1] * xf, color='#0000CD', lw=1.5, zorder=3)
ax.set_xlabel('Log10 Wij', fontsize=11.6, color=TXT, labelpad=10)
ax.set_ylabel('Log10 Frequency', fontsize=11.6, color=TXT, labelpad=13)

# panel d map
ax = px_axes(fig, 630, 600, 1071, 980)
ax.set_xlim(0, 1323)
ax.set_ylim(1140, 0)
ax.axis('off')
draw_network(ax, -24, 14)
order = np.argsort(red_d)[::-1]
ax.scatter(np.array(red_x)[order], np.array(red_y)[order], s=node_size(np.array(red_d)[order] * 1.1),
           c='#FF0000', edgecolors='#400000', linewidths=0.6, zorder=3)

# titles, panel letters and boxed legends, placed in picture pixels
ov = fig.add_axes([0, 0, 1, 1], zorder=10)
ov.set_xlim(0, W)
ov.set_ylim(H, 0)
ov.axis('off')


def label(x, y, s, size=11.5, ha='left', **kw):
    ov.text(x, y, s, fontsize=size, ha=ha, va='center', color=kw.pop('color', TXT), **kw)


def box(x0, y0, x1, y1):
    ov.add_patch(Rectangle((x0, y0), x1 - x0, y1 - y0, fc='white', ec='#333333', lw=1.0))


label(22, 15, 'a.', size=12.5, weight='bold', color='black')
label(22, 537, 'c.', size=12.5, weight='bold', color='black')
label(565, 537, 'd.', size=12.5, weight='bold', color='black')

for x, y, s in [(297, 25, 'Log Density vs Log Degree'), (297, 44, 'Log-Log Scale'),
                (863, 25, 'Continental United States'), (863, 43, 'Referral Activity Retained through Pruning'),
                (306, 558, 'Log-Log Plot of Positive Edge Weight Distribution'),
                (854, 550, 'Continential United States'), (854, 568, 'Referral Activity Retained through Pruning')]:
    label(x, y, s, size=11.4, ha='center', weight='bold', color='black')

box(84, 302, 320, 357)
ov.scatter([99], [321], s=15, c='black')
ov.scatter([99], [339], s=15, c='#A020F0')
label(113, 321, 'Hospital Degree Distribution')
label(113, 340, 'CCF Degree Distribution')

box(84, 377, 456, 432)
ov.plot([99, 129], [394.5, 394.5], color='#E8141C', lw=1.3)
ov.plot([99, 129], [413, 413], color='black', lw=1.3)
label(143, 396, 'Log(Density) = 11.23-2.18*Log(Degree)', size=11.8)
label(143, 415, 'Log(Density) = 38.901-4.431*Log(Degree)', size=11.8)

box(79, 934, 362, 971)
ov.plot([93, 123], [953, 953], color='#0000CD', lw=1.3)
label(139, 953, '10.122 - 1.490 * Log10 ( Wij )', size=11.9)

box(653, 350, 813, 436)
ov.scatter([671], [367], s=19, c='#FFFF00', edgecolors='black', linewidths=0.6)
ov.scatter([671], [384], s=19, c='#0000CD', edgecolors='black', linewidths=0.6)
ov.scatter([671], [401], s=19, c='#FF00FF', edgecolors='black', linewidths=0.6)
ov.plot([657, 685], [418, 418], color=GREY, lw=1.4)
label(697, 368, 'Hospital', size=11)
label(697, 385, 'CCF (Pruned)', size=11)
label(697, 403, 'CCF (Retained)', size=11)
label(697, 419, 'Referral', size=11)

box(645, 868, 782, 971)
ov.scatter([662], [897], s=19, c='#FFFF00', edgecolors='black', linewidths=0.6)
ov.scatter([662], [925], s=19, c='#FF0000', edgecolors='black', linewidths=0.6)
ov.plot([650, 677], [955, 955], color=GREY, lw=1.4)
label(689, 898, 'Hospital', size=11)
label(689, 918, 'High-degree', size=11)
label(689, 936, 'Vertex', size=11)
label(689, 956, 'Referral', size=11)

fig.savefig('out.png', dpi=100)
